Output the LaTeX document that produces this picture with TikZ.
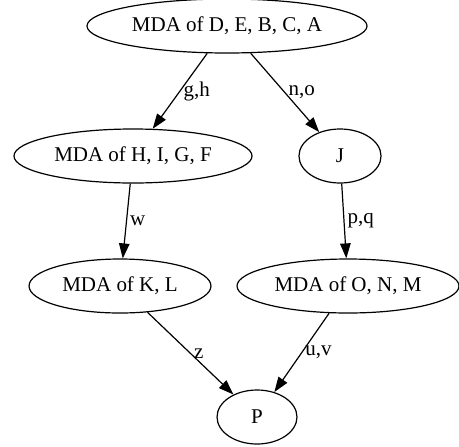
\documentclass[tikz,border=0pt]{standalone}
\usepackage{fontspec}
\setmainfont{Liberation Serif}
\usetikzlibrary{arrows.meta, shapes.geometric}
\definecolor{inkblack}{HTML}{000000}

\begin{document}
\begin{tikzpicture}[x=0.6667pt, y=-0.6667pt,
    >={Triangle[length=10pt, width=7pt]},
    mda/.style={ellipse, draw=inkblack, line width=0.8pt, inner sep=0pt,
      minimum height=36pt, font=\fontsize{14}{16}\selectfont},
    link/.style={->, draw=inkblack, line width=0.8pt},
    elabel/.style={right, inner sep=2pt, font=\fontsize{14}{16}\selectfont}]

% Canvas — same proportions as the reference
\useasboundingbox (0,0) rectangle (459,446);

% Nodes (pixel positions of the reference)
\node[mda, minimum width=186.7pt] (debca) at (227,26)  {MDA of D, E, B, C, A};
\node[mda, minimum width=158.7pt] (higf)  at (133,156) {MDA of H, I, G, F};
\node[mda, minimum width=54.7pt]  (j)     at (340,156) {J};
\node[mda, minimum width=121.3pt] (kl)    at (120,286) {MDA of K, L};
\node[mda, minimum width=148pt]   (onm)   at (348,286) {MDA of O, N, M};
\node[mda, minimum width=53.3pt]  (p)     at (257,417) {P};

% Edges with their labels
\draw[link] (debca) -- node[elabel] {g,h} (higf);
\draw[link] (debca) -- node[elabel] {n,o} (j);
\draw[link] (higf)  -- node[elabel] {w}   (kl);
\draw[link] (j)     -- node[elabel] {p,q} (onm);
\draw[link] (kl)    -- node[elabel] {z}   (p);
\draw[link] (onm)   -- node[elabel] {u,v} (p);

\end{tikzpicture}
\end{document}
